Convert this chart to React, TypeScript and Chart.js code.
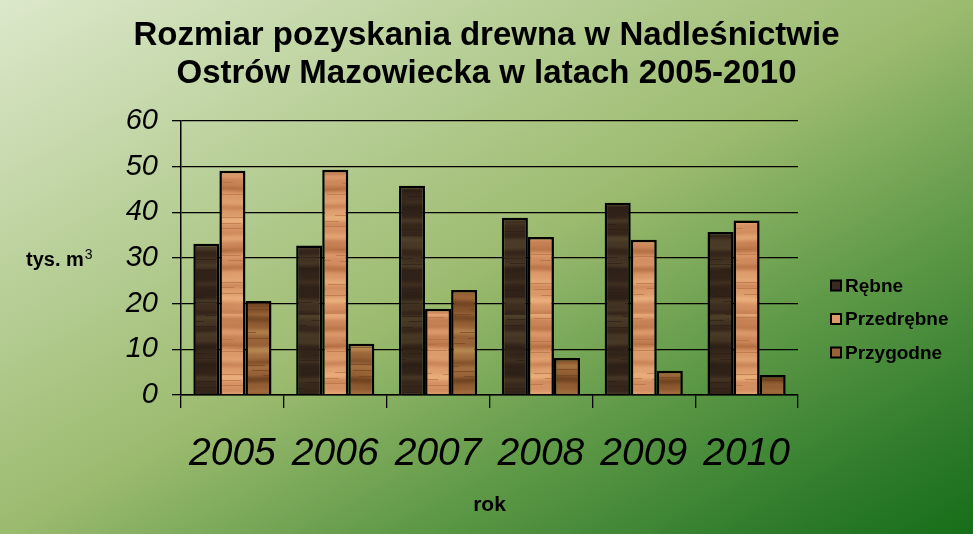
import React, { useEffect, useRef } from "react";
import { Chart, registerables } from "chart.js";

Chart.register(...registerables);

const TITLE_LINES = ["Rozmiar pozyskania drewna w Nadleśnictwie", "Ostrów Mazowiecka w latach 2005-2010"];
const YEARS = ["2005", "2006", "2007", "2008", "2009", "2010"];
const SERIES_NAMES = ["Rębne", "Przedrębne", "Przygodne"];
const REBNE = [33.1, 32.7, 45.8, 38.8, 42.1, 35.7];
const PRZEDREBNE = [49.1, 49.3, 18.9, 34.6, 34.0, 38.2];
const PRZYGODNE = [20.6, 11.2, 23.0, 8.1, 5.3, 4.4];
const Y_MIN = 0;
const Y_MAX = 60;
const Y_STEP = 10;
const Y_LABEL = "tys. m";
const Y_LABEL_SUP = "3";
const X_LABEL = "rok";

const FONT = '"Liberation Sans", Arial, sans-serif';

type RGB = [number, number, number];

function makeWood(base: RGB, dark: RGB, light: RGB, seed: number): CanvasPattern | string {
  const W = 240;
  const H = 157;
  const c = document.createElement("canvas");
  c.width = W;
  c.height = H;
  const ctx = c.getContext("2d");
  if (!ctx) return `rgb(${base.join(",")})`;
  const img = ctx.createImageData(W, H);
  for (let y = 0; y < H; y++) {
    for (let x = 0; x < W; x++) {
      const warp = 0.6 * Math.sin((x / W) * Math.PI * 2 + y * 0.05 + seed);
      const t1 = Math.sin(y * 0.31 + seed + warp);
      const t3 = Math.sin(y * 0.083 + seed * 1.7 + warp * 0.3);
      const t4 = Math.sin(y * 0.71 + seed * 0.7 + warp * 1.2);
      const v = 0.4 * t1 + 0.35 * t3 + 0.15 * t4;
      let col: number[];
      if (v > 0) {
        col = base.map((b, k) => b + (light[k] - b) * v);
      } else {
        col = base.map((b, k) => b + (dark[k] - b) * -v);
      }
      const t2 = Math.sin(y * 1.13 + seed * 2.3 + warp * 2);
      if (t2 > 0.93 && Math.sin(y * 0.19 + seed) > 0) {
        col = col.map((cc, k) => cc + (dark[k] - cc) * 0.6);
      }
      const i = (y * W + x) * 4;
      img.data[i] = col[0];
      img.data[i + 1] = col[1];
      img.data[i + 2] = col[2];
      img.data[i + 3] = 255;
    }
  }
  ctx.putImageData(img, 0, 0);
  const p = ctx.createPattern(c, "repeat");
  return p || `rgb(${base.join(",")})`;
}

const LEGEND_COLORS = ["#3b2a1f", "#dc9a6c", "#9c6236"];

export default function App() {
  const ref = useRef<HTMLCanvasElement | null>(null);

  useEffect(() => {
    const canvas = ref.current;
    if (!canvas) return;

    const patR = makeWood([56, 40, 28], [40, 28, 20], [84, 70, 46], 0.3);
    const patP = makeWood([214, 146, 100], [176, 108, 62], [236, 178, 126], 1.7);
    const patG = makeWood([152, 98, 54], [108, 64, 30], [186, 140, 84], 3.1);

    const bgPlugin = {
      id: "bg",
      beforeDraw(chart: any) {
        const { ctx, width, height } = chart;
        const g = ctx.createLinearGradient(0, 0, 450, 820);
        g.addColorStop(0, "#dce8cb");
        g.addColorStop(0.5, "#9cbb6f");
        g.addColorStop(0.7, "#609a48");
        g.addColorStop(0.9, "#2c7a2a");
        g.addColorStop(1, "#176e19");
        ctx.save();
        ctx.fillStyle = g;
        ctx.fillRect(0, 0, width, height);
        ctx.restore();
      },
    };

    const extrasPlugin = {
      id: "extras",
      afterDraw(chart: any) {
        const ctx = chart.ctx as CanvasRenderingContext2D;
        ctx.save();
        ctx.fillStyle = "#000";
        ctx.textBaseline = "alphabetic";
        ctx.textAlign = "left";
        ctx.font = `bold 20px ${FONT}`;
        ctx.fillText(Y_LABEL, 26, 266);
        const w = ctx.measureText(Y_LABEL).width;
        ctx.font = `14px ${FONT}`;
        ctx.fillText(Y_LABEL_SUP, 26 + w + 1, 259);
        chart.data.datasets.forEach((ds: any, i: number) => {
          const cy = 285.5 + i * 33.5;
          ctx.fillStyle = LEGEND_COLORS[i];
          ctx.fillRect(831, cy - 5, 10, 10);
          ctx.strokeStyle = "#000";
          ctx.lineWidth = 2;
          ctx.strokeRect(831, cy - 5, 10, 10);
          ctx.fillStyle = "#000";
          ctx.font = `bold 19px ${FONT}`;
          ctx.textBaseline = "middle";
          ctx.fillText(ds.label, 845, cy + 1);
        });
        ctx.restore();
      },
    };

    const chart = new Chart(canvas, {
      type: "bar",
      data: {
        labels: YEARS,
        datasets: [
          { label: SERIES_NAMES[0], data: REBNE, backgroundColor: patR as any, borderColor: "#000", borderWidth: 2.5 },
          { label: SERIES_NAMES[1], data: PRZEDREBNE, backgroundColor: patP as any, borderColor: "#000", borderWidth: 2.5 },
          { label: SERIES_NAMES[2], data: PRZYGODNE, backgroundColor: patG as any, borderColor: "#000", borderWidth: 2.5 },
        ],
      },
      options: {
        responsive: false,
        animation: false,
        devicePixelRatio: 1,
        layout: { padding: { left: 0, right: 0, top: 0, bottom: 0 } },
        datasets: { bar: { categoryPercentage: 0.76, barPercentage: 1 } },
        plugins: {
          legend: { display: false },
          tooltip: { enabled: false },
          title: {
            display: true,
            text: TITLE_LINES,
            color: "#000",
            font: { family: FONT, size: 33, weight: "bold", lineHeight: 1.15 },
            padding: { top: 17, bottom: 28 },
          },
        },
        scales: {
          x: {
            grid: {
              display: true,
              drawOnChartArea: false,
              drawTicks: true,
              tickLength: 13,
              color: "#000",
              lineWidth: 1.3,
              offset: true,
            },
            border: { display: true, color: "#000", width: 1.5 },
            ticks: {
              color: "#000",
              padding: 23,
              maxRotation: 0,
              font: { family: FONT, size: 39, style: "italic", lineHeight: 1.2 },
            },
            title: {
              display: true,
              text: X_LABEL,
              color: "#000",
              font: { family: FONT, size: 21, weight: "bold", lineHeight: 1.2 },
              padding: { top: 0, bottom: 16 },
            },
            afterFit(scale: any) {
              scale.height = 139;
            },
          },
          y: {
            min: Y_MIN,
            max: Y_MAX,
            grid: {
              display: true,
              color: "#000",
              lineWidth: 1.3,
              tickLength: 9,
              drawTicks: true,
            },
            border: { display: true, color: "#000", width: 1.5 },
            ticks: {
              stepSize: Y_STEP,
              color: "#000",
              padding: 14,
              font: { family: FONT, size: 29, style: "italic" },
            },
            afterFit(scale: any) {
              scale.width = 181;
            },
          },
          legendSpace: {
            type: "linear",
            position: "right",
            display: true,
            grid: { display: false, drawTicks: false },
            border: { display: false },
            ticks: { display: false },
            afterFit(scale: any) {
              scale.width = 175;
            },
          },
        },
      },
      plugins: [bgPlugin, extrasPlugin],
    });

    return () => chart.destroy();
  }, []);

  return (
    <div style={{ position: "fixed", left: 0, top: 0, width: 973, height: 534 }}>
      <canvas ref={ref} width={973} height={534} style={{ display: "block", width: 973, height: 534 }} />
    </div>
  );
}
